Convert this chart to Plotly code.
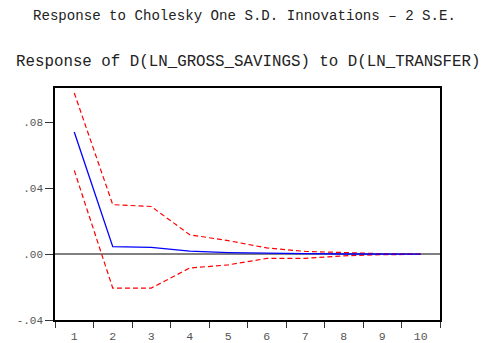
import plotly.graph_objects as go

periods = [1, 2, 3, 4, 5, 6, 7, 8, 9, 10]
response = [0.0743, 0.0046, 0.0041, 0.0018, 0.0010, 0.0005, 0.0003, 0.0001, 0.0000, 0.0000]
upper = [0.0980, 0.0301, 0.0290, 0.0118, 0.0082, 0.0038, 0.0017, 0.0008, 0.0003, 0.0001]
lower = [0.0509, -0.0206, -0.0206, -0.0084, -0.0065, -0.0026, -0.0025, -0.0010, -0.0003, -0.0001]
ytick_vals = [-0.04, 0.0, 0.04, 0.08]
ytick_text = ["-.04", ".00", ".04", ".08"]
title_main = "Response to Cholesky One S.D. Innovations \u2013 2 S.E."
title_sub = "Response of D(LN_GROSS_SAVINGS) to D(LN_TRANSFER)"

fig = go.Figure()
fig.add_trace(go.Scatter(x=periods, y=upper, mode="lines",
                         line=dict(color="#ff0000", width=1.2, dash="5px,3px")))
fig.add_trace(go.Scatter(x=periods, y=lower, mode="lines",
                         line=dict(color="#ff0000", width=1.2, dash="5px,3px")))
fig.add_trace(go.Scatter(x=periods, y=response, mode="lines",
                         line=dict(color="#0000ff", width=1.3)))

L, R, T, B = 55, 58, 88, 23
fig.update_layout(
    width=498, height=343,
    margin=dict(l=L, r=R, t=T, b=B),
    paper_bgcolor="white", plot_bgcolor="white",
    showlegend=False,
    font=dict(family="Liberation Mono", size=11, color="#555555"),
)
pw = 498 - L - R
ph = 343 - T - B
def px_x(x):
    return (x - L) / pw
def px_y(y):
    return 1 + (T - y) / ph

fig.add_annotation(text=title_main, x=px_x(244), y=px_y(16), xref="paper", yref="paper",
                   showarrow=False, xanchor="center", yanchor="middle",
                   font=dict(family="Liberation Mono", size=14.1, color="#222222"))
fig.add_annotation(text=title_sub, x=px_x(249), y=px_y(62), xref="paper", yref="paper",
                   showarrow=False, xanchor="center", yanchor="middle",
                   font=dict(family="Liberation Mono", size=15.8, color="#222222"))

fig.update_xaxes(
    range=[0.5, 10.5], tickvals=periods, ticktext=[str(p) for p in periods],
    ticks="", showgrid=False, zeroline=False, automargin=False,
    showline=True, mirror=True, linecolor="black", linewidth=1.5,
    tickfont=dict(size=11.5, color="#555555"), ticklabelstandoff=4,
    minor=dict(tickvals=[p + 0.5 for p in [0] + periods], ticks="outside",
               ticklen=6, tickwidth=1, tickcolor="#333333", showgrid=False),
)
fig.update_yaxes(
    range=[-0.04, 0.101], tickvals=ytick_vals, ticktext=ytick_text,
    ticks="outside", ticklen=8, tickwidth=1, tickcolor="#333333", automargin=False,
    showgrid=False, zeroline=True, zerolinecolor="#808080", zerolinewidth=2,
    showline=True, mirror=True, linecolor="black", linewidth=1.5,
    tickfont=dict(size=11, color="#555555"),
)

fig.write_html("out.html", config={"displayModeBar": False},
               post_script="document.body.style.margin='0';")
